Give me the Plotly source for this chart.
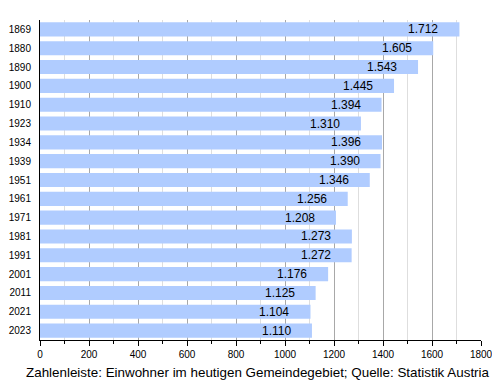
import plotly.graph_objects as go

years = ["1869", "1880", "1890", "1900", "1910", "1923", "1934", "1939", "1951",
         "1961", "1971", "1981", "1991", "2001", "2011", "2021", "2023"]
population = [1712, 1605, 1543, 1445, 1394, 1310, 1396, 1390, 1346,
              1256, 1208, 1273, 1272, 1176, 1125, 1104, 1110]
x_ticks = [0, 200, 400, 600, 800, 1000, 1200, 1400, 1600, 1800]
caption = "Zahlenleiste: Einwohner im heutigen Gemeindegebiet; Quelle: Statistik Austria"

FONT = "Liberation Sans, Arial, sans-serif"


def de_fmt(v):
    return f"{v:,}".replace(",", ".")


pos = list(range(len(years)))

fig = go.Figure()
fig.add_trace(go.Bar(
    x=population, y=pos, orientation="h",
    marker=dict(color="#b0ccff", line=dict(width=0)),
    hoverinfo="skip", showlegend=False,
))

for p, v in zip(pos, population):
    fig.add_annotation(x=v, y=p, xref="x", yref="y", text=de_fmt(v),
                       showarrow=False, xanchor="right", xshift=-19,
                       font=dict(family=FONT, size=12, color="#000"))

fig.add_annotation(x=0.495, y=0, xref="paper", yref="paper", yshift=-32,
                   text=caption, showarrow=False, xanchor="center", yanchor="middle",
                   font=dict(family=FONT, size=13.4, color="#000"))

fig.update_layout(
    width=492, height=372,
    margin=dict(l=32, r=19, t=12, b=40, autoexpand=False),
    paper_bgcolor="white", plot_bgcolor="white",
    bargap=0.25,
    font=dict(family=FONT, size=10, color="#000"),
    xaxis=dict(
        range=[0, 1800], tickvals=x_ticks, ticktext=[str(t) for t in x_ticks],
        showline=True, linecolor="#000", linewidth=1,
        ticks="outside", ticklen=5, tickcolor="#000", tickwidth=1,
        showgrid=True, gridcolor="#a8a8a8", gridwidth=1,
        minor=dict(dtick=100, showgrid=True, gridcolor="#dedede",
                   ticks="outside", ticklen=3, tickcolor="#000"),
        zeroline=False, tickfont=dict(size=10, family=FONT),
        automargin=False, fixedrange=True,
    ),
    yaxis=dict(
        range=[len(years) - 0.5, -0.5],
        tickvals=pos, ticktext=years,
        showline=True, linecolor="#000", linewidth=1,
        ticks="", ticklabelstandoff=6, showgrid=False, zeroline=False,
        tickfont=dict(size=10, family=FONT),
        automargin=False,
    ),
)

fig.write_html("out.html")
